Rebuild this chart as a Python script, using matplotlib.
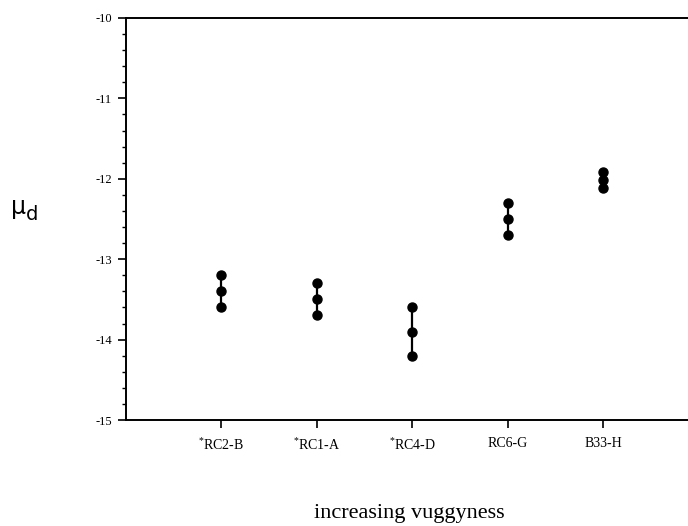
import matplotlib.pyplot as plt
from matplotlib.ticker import MultipleLocator

plt.rcParams['font.family'] = 'Liberation Serif'
plt.rcParams['axes.unicode_minus'] = False
plt.rcParams['mathtext.fontset'] = 'custom'
plt.rcParams['mathtext.rm'] = 'Liberation Serif'

samples = ['$^{*}$RC2-B', '$^{*}$RC1-A', '$^{*}$RC4-D', 'RC6-G', 'B33-H']
positions = [1, 2, 3, 4, 5]
upper = [-13.2, -13.3, -13.6, -12.3, -11.92]
middle = [-13.4, -13.5, -13.9, -12.5, -12.02]
lower = [-13.6, -13.7, -14.2, -12.7, -12.12]

fig = plt.figure(figsize=(6.88, 5.26), dpi=100)
ax = fig.add_axes([0.1831, 0.2015, 0.8169, 0.7643])

for x, u, m, l in zip(positions, upper, middle, lower):
    ax.plot([x, x, x], [u, m, l], color='black', lw=1.6, marker='o',
            markersize=6.5, markerfacecolor='black', markeredgecolor='black')

ax.set_xlim(0, 5.89)
ax.set_ylim(-15, -10)
ax.set_xticks(positions)
ax.set_xticklabels(samples, fontsize=10)
ax.yaxis.set_major_locator(MultipleLocator(1))
ax.yaxis.set_minor_locator(MultipleLocator(0.2))
ax.tick_params(axis='y', which='major', direction='out', length=6, width=1.2, labelsize=9, pad=4)
ax.tick_params(axis='y', which='minor', direction='out', length=3, width=1)
ax.tick_params(axis='x', which='major', direction='out', length=6, width=1.2, pad=6)

for side in ['left', 'bottom', 'top']:
    ax.spines[side].set_linewidth(1.4)
ax.spines['right'].set_visible(False)

# mu_d label, upright mu with lowered d
fig.text(0.027, 0.607, 'μ', fontsize=17, ha='center', va='center', family='DejaVu Sans')
fig.text(0.047, 0.592, 'd', fontsize=14, ha='center', va='center', family='DejaVu Sans')
fig.text(0.595, 0.016, 'increasing vuggyness', fontsize=16, ha='center', va='baseline')

fig.savefig('out.png', dpi=100)
